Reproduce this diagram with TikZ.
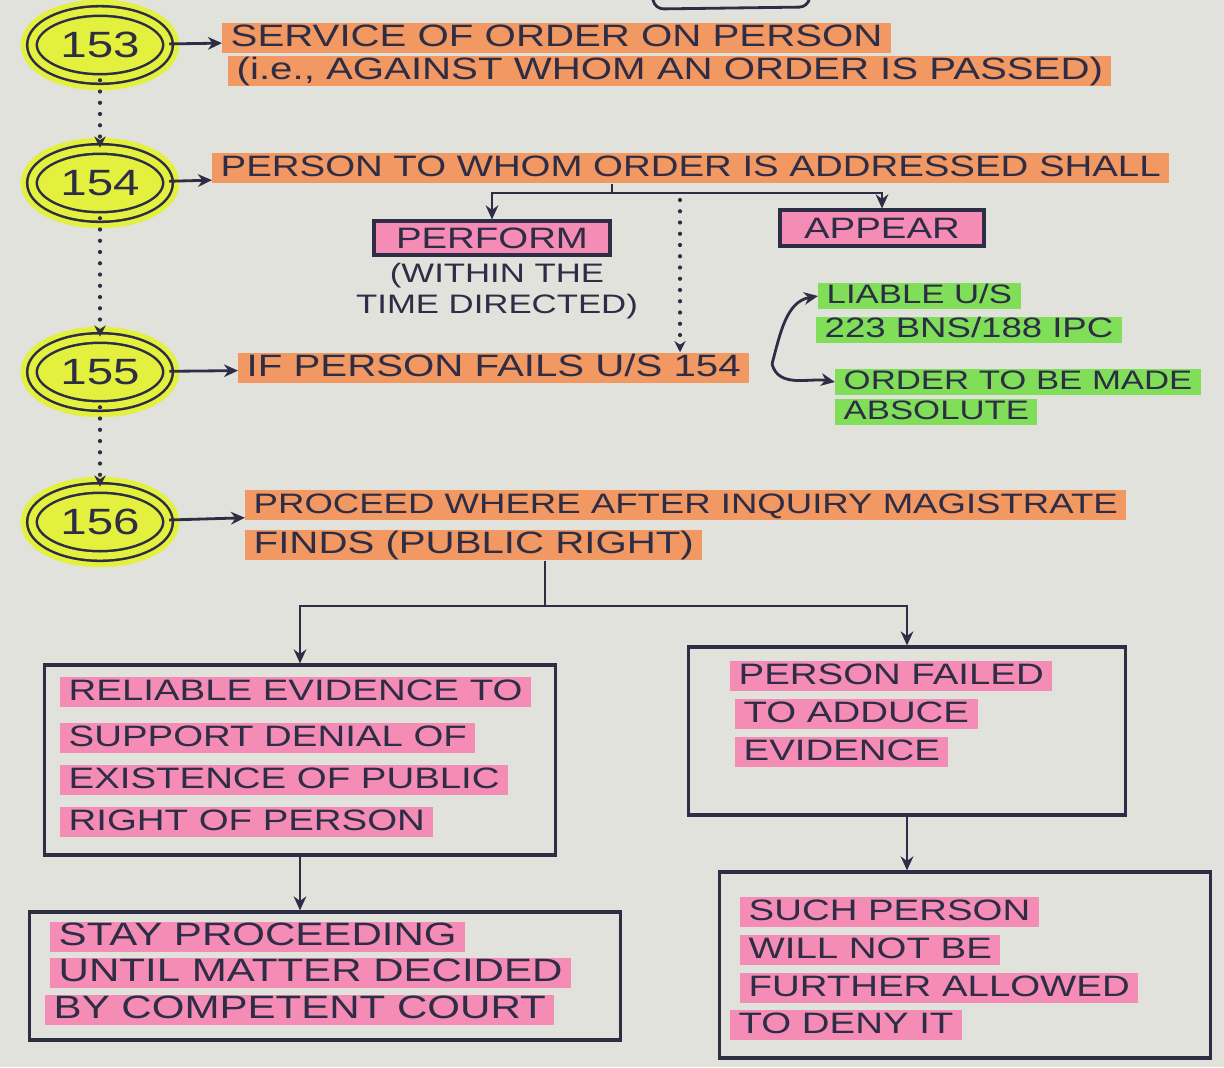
\documentclass[tikz,border=0pt]{standalone}
\usepackage{fontspec}
\newfontfamily\handfont{Liberation Sans}[FakeStretch=1.3]
\usetikzlibrary{shapes,arrows.meta,positioning,calc}

\definecolor{paper}{RGB}{226,226,221}
\definecolor{ink}{RGB}{45,45,70}
\definecolor{hlorange}{RGB}{242,152,98}
\definecolor{hlpink}{RGB}{244,140,182}
\definecolor{hlgreen}{RGB}{128,222,88}
\definecolor{hlyellow}{RGB}{228,240,62}

\begin{document}
\begin{tikzpicture}[x=0.025cm, y=-0.025cm,
    num/.style={ellipse, draw=ink, line width=1.8pt, double=hlyellow, double distance=5pt, fill=hlyellow, minimum width=3.4cm, minimum height=1.7cm, text=ink, font=\handfont\fontsize{26}{26}\selectfont, preaction={draw=hlyellow, line width=16pt}},
    band/.style={anchor=west, fill=hlorange, text=ink, inner xsep=6pt, inner ysep=1pt, text height=16pt, text depth=4pt, font=\handfont\fontsize{22}{22}\selectfont},
    pinkband/.style={band, fill=hlpink, font=\handfont\fontsize{21}{21}\selectfont},
    stayband/.style={pinkband, font=\handfont\fontsize{23}{23}\selectfont},
    greenband/.style={band, fill=hlgreen, text height=14pt, text depth=3pt, font=\handfont\fontsize{19}{19}\selectfont},
    frame/.style={draw=ink, line width=2.2pt, rectangle},
    tag/.style={frame, fill=hlpink, text=ink, font=\handfont\fontsize{21}{21}\selectfont},
    note/.style={text=ink, align=center, font=\handfont\fontsize{19}{22}\selectfont},
    edge/.style={-{Stealth[length=10pt, width=9pt]}, line width=2pt, draw=ink},
    dotedge/.style={-{Stealth[length=8pt, width=8pt]}, line width=3pt, draw=ink, line cap=round, dash pattern=on 0pt off 8pt},
]

% paper
\fill[paper] (0,0) rectangle (1224,1067);
\useasboundingbox (0,0) rectangle (1224,1067);

% box cut off at the top
\draw[ink, line width=2pt, rounded corners=6pt] (652,-5) -- (655,9) -- (808,7) -- (810,-5);

% Section 153
\node[num] (c153) at (100,45) {153};
\node[band] (t153a) at (222,38) {SERVICE OF ORDER ON PERSON};
\node[band] (t153b) at (228,71) {(i.e., AGAINST WHOM AN ORDER IS PASSED)};
\draw[edge] (c153) -- (t153a);

% Section 154
\node[num] (c154) at (100,183) {154};
\node[band, font=\handfont\fontsize{21}{21}\selectfont] (t154) at (212,168) {PERSON TO WHOM ORDER IS ADDRESSED SHALL};
\draw[edge] (c154) -- (t154);

\coordinate (s154) at (612,193);
\node[tag, minimum width=5.9cm, minimum height=0.85cm] (perform) at (492,238) {PERFORM};
\node[tag, minimum width=5.1cm, minimum height=0.9cm] (appear) at (882,228) {APPEAR};
\node[note] (within) at (497,291) {(WITHIN THE\\TIME DIRECTED)};

\draw[line width=2pt, draw=ink] (t154.south -| s154) -- (s154);
\draw[edge] (s154) -| (perform);
\draw[edge] (s154) -| (appear);

% Section 155
\node[num] (c155) at (100,372) {155};
\node[band] (t155) at (238,368) {IF PERSON FAILS U/S 154};
\draw[edge] (c155) -- (t155);

\coordinate (d154) at (680,200);
\draw[dotedge] (d154) -- (d154 |- t155.north);

\node[greenband] (l1) at (818,296) {LIABLE U/S};
\node[greenband, font=\handfont\fontsize{20}{20}\selectfont] (l2) at (816,330) {223 BNS/188 IPC};
\node[greenband] (o1) at (835,382) {ORDER TO BE MADE};
\node[greenband] (o2) at (835,412) {ABSOLUTE};

\coordinate (br) at (772,364);
\draw[edge] (br) to[out=75, in=190] (l1.west);
\draw[edge] (br) to[out=-75, in=170] (o1.west);

% Section 156
\node[num] (c156) at (100,522) {156};
\node[band, font=\handfont\fontsize{20}{20}\selectfont] (t156a) at (245,505) {PROCEED WHERE AFTER INQUIRY MAGISTRATE};
\node[band] (t156b) at (245,545) {FINDS (PUBLIC RIGHT)};
\draw[edge] (c156) -- (t156a);

% chain of sections
\draw[dotedge] (c153) -- (c154);
\draw[dotedge] (c154) -- (c155);
\draw[dotedge] (c155) -- (c156);

% outcomes
\coordinate (s156) at (545,606);
\node[frame, minimum width=12.75cm, minimum height=4.75cm] (rel) at (300,760) {};
\node[frame, minimum width=10.9cm, minimum height=4.2cm] (fail) at (907,731) {};
\node[frame, minimum width=14.75cm, minimum height=3.2cm] (stay) at (325,976) {};
\node[frame, minimum width=12.25cm, minimum height=4.65cm] (such) at (965,965) {};

\draw[line width=2pt, draw=ink] (t156b.south -| s156) -- (s156);
\draw[edge] (s156) -| (rel);
\draw[edge] (s156) -| (fail);
\draw[edge] (rel) -- (rel.south |- stay.north);
\draw[edge] (fail) -- (fail.south |- such.north);

\node[pinkband] (r1) at (60,692) {RELIABLE EVIDENCE TO};
\node[pinkband] (r2) at (60,738) {SUPPORT DENIAL OF};
\node[pinkband] (r3) at (60,780) {EXISTENCE OF PUBLIC};
\node[pinkband] (r4) at (60,822) {RIGHT OF PERSON};

\node[pinkband] (f1) at (730,676) {PERSON FAILED};
\node[pinkband] (f2) at (735,714) {TO ADDUCE};
\node[pinkband] (f3) at (735,752) {EVIDENCE};

\node[stayband] (s1) at (50,937) {STAY PROCEEDING};
\node[stayband] (s2) at (50,973) {UNTIL MATTER DECIDED};
\node[stayband] (s3) at (45,1010) {BY COMPETENT COURT};

\node[pinkband] (u1) at (740,912) {SUCH PERSON};
\node[pinkband] (u2) at (740,950) {WILL NOT BE};
\node[pinkband] (u3) at (740,988) {FURTHER ALLOWED};
\node[pinkband] (u4) at (730,1025) {TO DENY IT};

\end{tikzpicture}
\end{document}
